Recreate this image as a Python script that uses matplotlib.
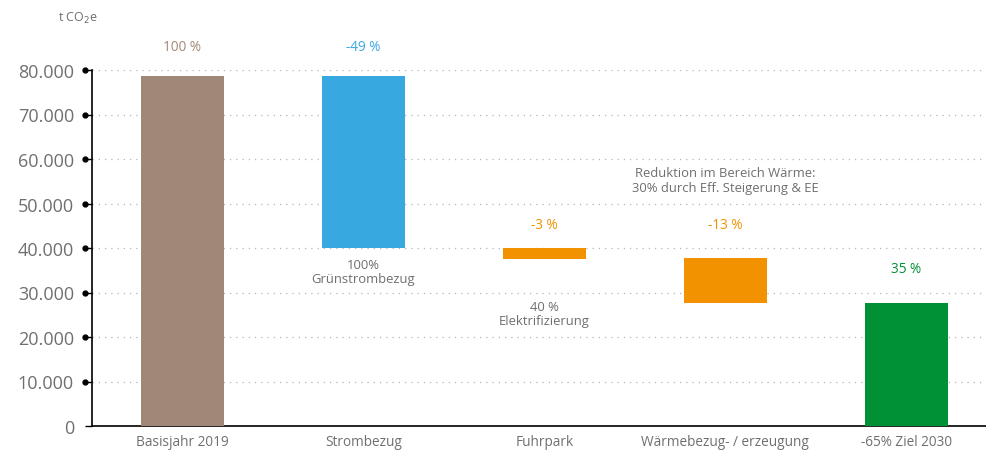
import matplotlib
matplotlib.use("Agg")
import matplotlib.pyplot as plt

plt.rcParams['font.family'] = ['Open Sans', 'DejaVu Sans']

categories = ["Basisjahr 2019", "Strombezug", "Fuhrpark", "Wärmebezug- / erzeugung", "-65% Ziel 2030"]
bar_bottom = [0, 40000, 37500, 27600, 0]
bar_top = [78600, 78600, 40000, 37700, 27600]
pct_labels = ["100 %", "-49 %", "-3 %", "-13 %", "35 %"]
pct_y = [85200, 85200, 45200, 45200, 35300]
colors = ["#a08878", "#38a9e0", "#f39200", "#f39200", "#009036"]
yticks = [0, 10000, 20000, 30000, 40000, 50000, 60000, 70000, 80000]
ytick_labels = ["0", "10.000", "20.000", "30.000", "40.000", "50.000", "60.000", "70.000", "80.000"]
notes = [(1, 34700, "100%\nGrünstrombezug"),
         (2, 25300, "40 %\nElektrifizierung"),
         (3, 55300, "Reduktion im Bereich Wärme:\n30% durch Eff. Steigerung & EE")]

gray = "#6f6f6f"
fig = plt.figure(figsize=(9.86, 4.52), dpi=100)
ax = fig.add_axes([92/986, 25/452, (986-92)/986, (427-71)/452])

x = list(range(len(categories)))
heights = [t - b for t, b in zip(bar_top, bar_bottom)]
ax.bar(x, heights, bottom=bar_bottom, width=0.46, color=colors, zorder=3)

for xi, yv, lab, c in zip(x, pct_y, pct_labels, colors):
    ax.text(xi, yv, lab, ha="center", va="center", color=c, fontsize=9.8)

for xi, yv, t in notes:
    ax.text(xi, yv, t, ha="center", va="center", color=gray, fontsize=9.4, linespacing=1.15)

ax.set_xlim(-0.5, 4.44)
ax.set_ylim(0, 80000)
ax.set_yticks(yticks)
ax.set_yticklabels(ytick_labels)
ax.set_xticks(x)
ax.set_xticklabels(categories)
ax.tick_params(axis="x", length=0, pad=6, labelsize=9.8, labelcolor=gray)
ax.tick_params(axis="y", length=5, width=1, pad=8, labelsize=13, labelcolor=gray, color="black")

for yv in yticks[1:]:
    ax.axhline(yv, color="#b5b5b5", linestyle=(0, (1, 4)), linewidth=0.9, zorder=1)

# dot markers at tick ends
ax.plot([-0.5 - 7/181] * len(yticks[1:]), yticks[1:], "o", color="black", markersize=3.5, clip_on=False, zorder=5)

for s in ["top", "right"]:
    ax.spines[s].set_visible(False)
ax.spines["left"].set_linewidth(1.2)
ax.spines["bottom"].set_linewidth(1.2)

fig.text(78/986, 1 - 18/452, "t CO$_2$e", ha="center", va="center", color=gray, fontsize=9)

fig.savefig("out.png", dpi=100)
